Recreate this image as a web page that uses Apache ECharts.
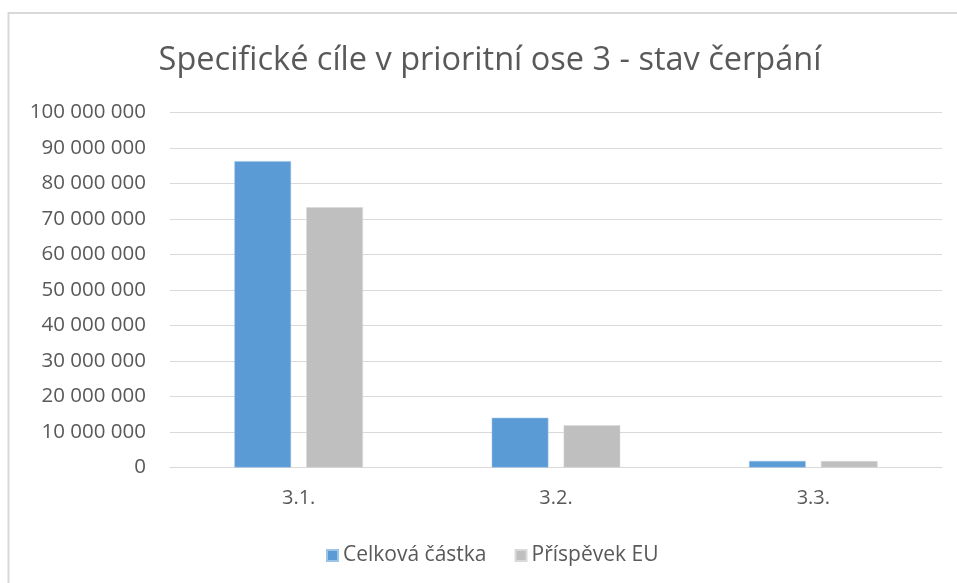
<!DOCTYPE html>
<html>
<head>
<meta charset="utf-8">
<script src="https://cdn.jsdelivr.net/npm/echarts@6/dist/echarts.min.js"></script>
<style>
  html, body { margin: 0; padding: 0; background: #fff; }
  #chart { width: 957px; height: 583px; }
</style>
</head>
<body>
<div id="chart"></div>
<script>
const categories = ['3.1.', '3.2.', '3.3.'];
const celkovaCastka = [86300000, 14000000, 1850000];
const prispevekEU = [73300000, 11900000, 1800000];

const fmt = v => String(v).replace(/\B(?=(\d{3})+(?!\d))/g, ' ');

const chart = echarts.init(document.getElementById('chart'));
chart.setOption({
  backgroundColor: '#fff',
  textStyle: { fontFamily: 'Open Sans' },
  graphic: [{
    type: 'rect',
    shape: { x: 8.5, y: 13, width: 980, height: 620 },
    style: { fill: 'none', stroke: '#d9d9d9', lineWidth: 2 },
    silent: true
  }],
  title: {
    text: 'Specifické cíle v prioritní ose 3 - stav čerpání',
    left: 485,
    textAlign: 'center',
    top: 39,
    textStyle: { fontFamily: 'Open Sans', fontWeight: 'normal', fontSize: 32.5, color: '#595959' }
  },
  legend: {
    data: ['Celková částka', 'Příspěvek EU'],
    left: 321,
    top: 540,
    itemWidth: 11,
    itemHeight: 11,
    itemGap: 28,
    icon: 'rect',
    textStyle: { fontSize: 21, color: '#595959', fontFamily: 'Open Sans' }
  },
  grid: { left: 170, right: 15, top: 112.5, bottom: 115.5, containLabel: false },
  xAxis: {
    type: 'category',
    data: categories,
    axisLine: { lineStyle: { color: '#d9d9d9', width: 1 } },
    axisTick: { show: false },
    axisLabel: { fontSize: 20, color: '#595959', margin: 21 }
  },
  yAxis: {
    type: 'value',
    min: 0,
    max: 100000000,
    interval: 10000000,
    axisLine: { show: false },
    axisTick: { show: false },
    splitLine: { lineStyle: { color: '#d9d9d9', width: 1 } },
    axisLabel: { fontSize: 20.5, color: '#595959', margin: 24, formatter: fmt }
  },
  series: [
    {
      name: 'Celková částka',
      type: 'bar',
      data: celkovaCastka,
      barWidth: '22%',
      barGap: '27%',
      itemStyle: { color: '#5b9bd5', borderColor: '#9dc3e6', borderWidth: 0.5 }
    },
    {
      name: 'Příspěvek EU',
      type: 'bar',
      data: prispevekEU,
      barWidth: '22%',
      itemStyle: { color: '#bfbfbf', borderColor: '#d9d9d9', borderWidth: 0.5 }
    }
  ]
});
</script>
</body>
</html>
